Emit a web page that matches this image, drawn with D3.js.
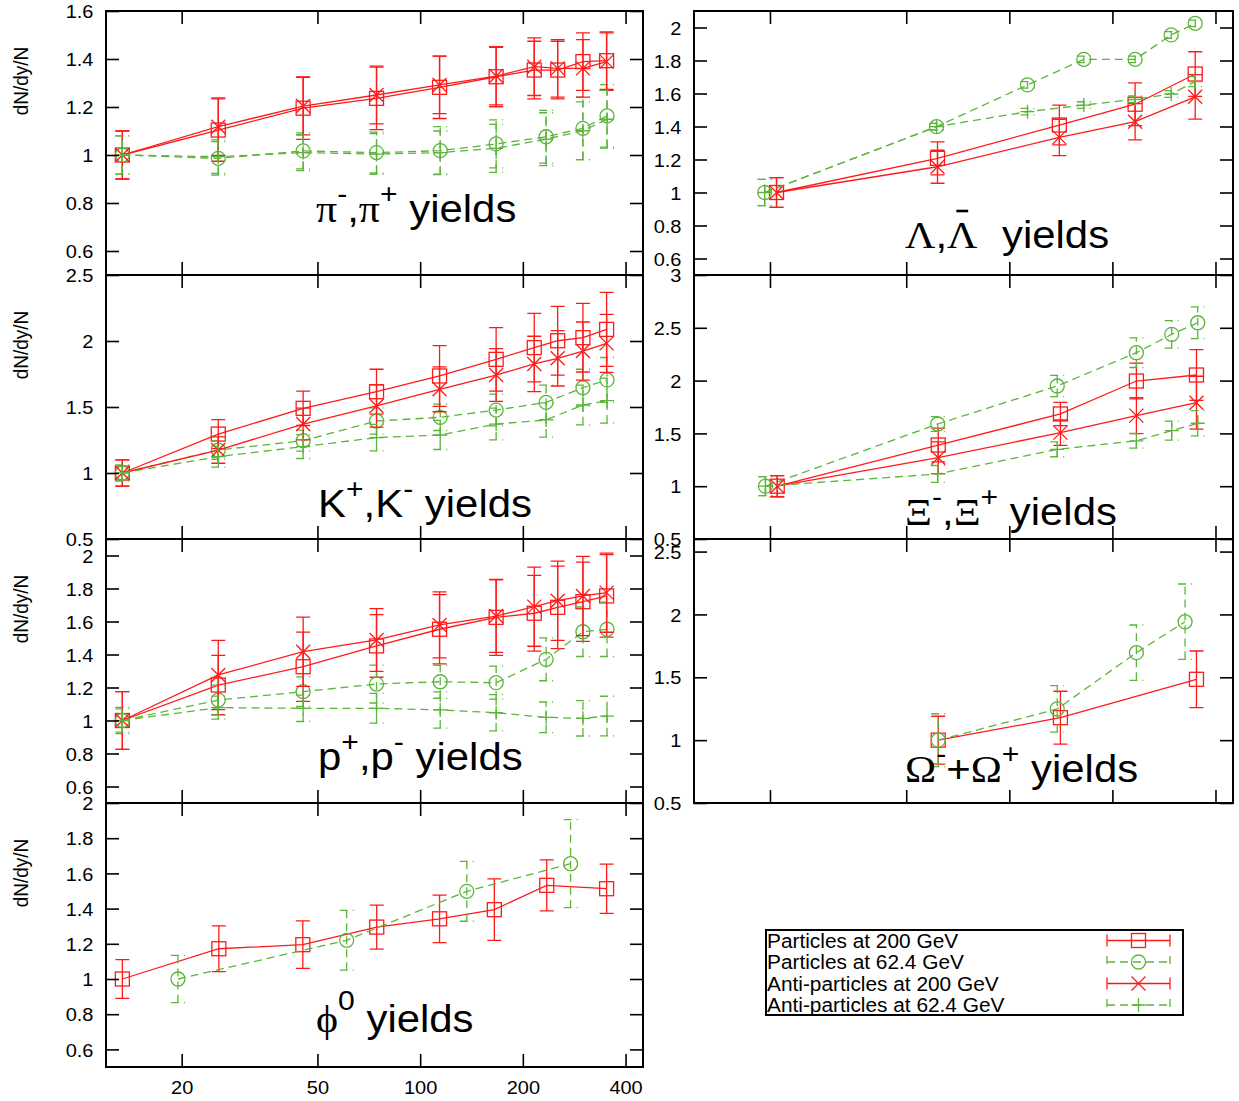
<!DOCTYPE html>
<html>
<head>
<meta charset="utf-8">
<script src="https://cdn.jsdelivr.net/npm/d3@7"></script>
<style>
  body { margin: 0; background: #fff; }
  svg { display: block; }
  text { font-family: "Liberation Sans", Arial, Helvetica, sans-serif; fill: #000; }
</style>
</head>
<body>
<script>
// ---------- shared axis settings ----------
const npartDomain = [12, 450];
const npartTicks = [20, 50, 100, 200, 400];

const yTicksPi = [0.6, 0.8, 1, 1.2, 1.4, 1.6];
const yTicksK = [0.5, 1, 1.5, 2, 2.5];
const yTicksP = [0.6, 0.8, 1, 1.2, 1.4, 1.6, 1.8, 2];
const yTicksPhi = [0.6, 0.8, 1, 1.2, 1.4, 1.6, 1.8, 2];
const yTicksLambda = [0.6, 0.8, 1, 1.2, 1.4, 1.6, 1.8, 2];
const yTicksXi = [0.5, 1, 1.5, 2, 2.5, 3];
const yTicksOmega = [0.5, 1, 1.5, 2, 2.5];

// ---------- Npart of each centrality class ----------
const npart200 = [13.4, 25.6, 45.4, 74.5, 114, 167, 216, 253, 300, 352];
const npart62 = [13.4, 25.6, 45.4, 74.5, 114.5, 167, 234, 300, 353];

// ---------- pions ----------
const piPart200 = [1.0, 1.104, 1.195, 1.236, 1.282, 1.326, 1.354, 1.354, 1.389, 1.393];
const piPart200Err = [0.1, 0.13, 0.13, 0.13, 0.13, 0.125, 0.12, 0.12, 0.12, 0.12];
const piPart62 = [1.0, 0.986, 1.017, 1.01, 1.018, 1.046, 1.076, 1.111, 1.163];
const piPart62Err = [0.08, 0.07, 0.075, 0.085, 0.1, 0.1, 0.11, 0.13, 0.13];
const piAnti200 = [1.0, 1.118, 1.204, 1.25, 1.292, 1.329, 1.368, 1.361, 1.361, 1.389];
const piAnti200Err = [0.1, 0.12, 0.12, 0.12, 0.12, 0.12, 0.12, 0.12, 0.12, 0.12];
const piAnti62 = [1.0, 0.993, 1.01, 1.004, 1.01, 1.028, 1.066, 1.101, 1.149];
const piAnti62Err = [0.08, 0.07, 0.075, 0.085, 0.09, 0.1, 0.11, 0.12, 0.12];

// ---------- kaons ----------
const kPart200 = [1.0, 1.295, 1.49, 1.616, 1.735, 1.861, 1.95, 2.002, 2.025, 2.088];
const kPart200Err = [0.1, 0.11, 0.13, 0.17, 0.23, 0.24, 0.26, 0.26, 0.26, 0.28];
const kPart62 = [1.0, 1.174, 1.245, 1.394, 1.422, 1.477, 1.535, 1.646, 1.705];
const kPart62Err = [0.06, 0.07, 0.08, 0.1, 0.1, 0.12, 0.13, 0.14, 0.17];
const kAnti200 = [1.0, 1.174, 1.371, 1.508, 1.634, 1.742, 1.826, 1.869, 1.924, 1.982];
const kAnti200Err = [0.1, 0.1, 0.12, 0.16, 0.17, 0.2, 0.21, 0.21, 0.22, 0.22];
const kAnti62 = [1.0, 1.124, 1.2, 1.268, 1.288, 1.371, 1.402, 1.515, 1.548];
const kAnti62Err = [0.06, 0.08, 0.09, 0.1, 0.11, 0.12, 0.13, 0.15, 0.17];

// ---------- protons ----------
const pPart200 = [1.0, 1.215, 1.326, 1.452, 1.553, 1.625, 1.65, 1.686, 1.72, 1.755];
const pPart200Err = [0.175, 0.18, 0.21, 0.19, 0.21, 0.23, 0.23, 0.25, 0.24, 0.25];
const pPart62 = [1.0, 1.124, 1.175, 1.221, 1.235, 1.229, 1.371, 1.538, 1.553];
const pPart62Err = [0.08, 0.09, 0.09, 0.115, 0.1, 0.1, 0.13, 0.15, 0.165];
const pAnti200 = [1.0, 1.276, 1.417, 1.488, 1.579, 1.633, 1.69, 1.726, 1.755, 1.775];
const pAnti200Err = [0.175, 0.21, 0.21, 0.19, 0.2, 0.22, 0.24, 0.24, 0.24, 0.24];
const pAnti62 = [1.0, 1.078, 1.074, 1.074, 1.064, 1.047, 1.019, 1.013, 1.027];
const pAnti62Err = [0.07, 0.07, 0.08, 0.09, 0.11, 0.11, 0.093, 0.107, 0.12];

// ---------- phi ----------
const phiNpart200 = [13.4, 25.7, 45.3, 74.6, 114, 165, 235, 352];
const phiPart200 = [1.0, 1.172, 1.195, 1.295, 1.342, 1.394, 1.532, 1.513];
const phiPart200Err = [0.11, 0.13, 0.135, 0.125, 0.135, 0.175, 0.145, 0.14];
const phiNpart62 = [19.5, 60.9, 137, 276];
const phiPart62 = [1.0, 1.22, 1.498, 1.655];
const phiPart62Err = [0.134, 0.17, 0.17, 0.25];

// ---------- lambda ----------
const lamNpart200 = [20.9, 61.7, 140, 233, 349];
const lamPart200 = [1.0, 1.207, 1.409, 1.535, 1.718];
const lamPart200Err = [0.09, 0.1, 0.12, 0.13, 0.135];
const lamAnti200 = [1.0, 1.156, 1.334, 1.429, 1.58];
const lamAnti200Err = [0.09, 0.1, 0.11, 0.11, 0.135];
const lamNpart62 = [19.3, 61.3, 113, 165, 233, 297, 349];
const lamPart62 = [1.0, 1.399, 1.652, 1.807, 1.807, 1.955, 2.025];
const lamPart62Err = [0.08, 0.02, 0.02, 0.02, 0.02, 0.02, 0.02];
const lamAnti62 = [1.0, 1.399, 1.49, 1.53, 1.565, 1.597, 1.672];
const lamAnti62Err = [0.08, 0.02, 0.02, 0.02, 0.02, 0.02, 0.03];

// ---------- xi ----------
const xiNpart200 = [21, 62, 141, 235, 352];
const xiPart200 = [1.0, 1.39, 1.684, 1.996, 2.053];
const xiPart200Err = [0.1, 0.16, 0.11, 0.17, 0.24];
const xiAnti200 = [1.0, 1.27, 1.507, 1.668, 1.791];
const xiAnti200Err = [0.1, 0.15, 0.12, 0.17, 0.25];
const xiNpart62 = [19.4, 61.8, 138, 235, 298, 355];
const xiPart62 = [1.0, 1.589, 1.949, 2.264, 2.438, 2.548];
const xiPart62Err = [0.09, 0.07, 0.1, 0.14, 0.13, 0.15];
const xiAnti62 = [1.0, 1.116, 1.349, 1.43, 1.526, 1.596];
const xiAnti62Err = [0.09, 0.08, 0.07, 0.07, 0.09, 0.12];

// ---------- omega ----------
const omNpart200 = [62, 141, 352];
const omPart200 = [1.0, 1.179, 1.484];
const omPart200Err = [0.19, 0.21, 0.225];
const omNpart62 = [62, 138, 235, 326];
const omPart62 = [1.0, 1.248, 1.696, 1.942];
const omPart62Err = [0.21, 0.185, 0.22, 0.3];

const legendLabels = ["Particles at 200 GeV", "Particles at 62.4 GeV",
                      "Anti-particles at 200 GeV", "Anti-particles at 62.4 GeV"];

// ---------- drawing ----------
const WIDTH = 1239, HEIGHT = 1101;
const RED = "#ff1a1a", GREEN = "#5cb53a";
const STRETCH = 1.075;            // glyphs are drawn slightly wide
const SERIF = "'Liberation Serif', 'Times New Roman', serif";
const TICK = 13, CAP = 7, MARK = 7;

const styles = {
  part200: { color: RED, dash: null, marker: "square" },
  part62:  { color: GREEN, dash: "8,5", marker: "circle" },
  anti200: { color: RED, dash: null, marker: "cross" },
  anti62:  { color: GREEN, dash: "8,5", marker: "plus" }
};

const cols = { left: [106, 643], right: [694, 1233] };
const rows = [11, 275, 539, 803, 1067];

const svg = d3.select("body").append("svg")
  .attr("width", WIDTH).attr("height", HEIGHT);

function drawMarker(g, type, cx, cy, color) {
  const m = g.append("g").attr("fill", "none").attr("stroke", color).attr("stroke-width", 1.3);
  if (type === "square") {
    m.append("rect").attr("x", cx - MARK).attr("y", cy - MARK).attr("width", 2 * MARK).attr("height", 2 * MARK);
  } else if (type === "circle") {
    m.append("circle").attr("cx", cx).attr("cy", cy).attr("r", MARK);
  } else if (type === "cross") {
    m.append("path").attr("d", `M${cx - MARK},${cy - MARK}L${cx + MARK},${cy + MARK}M${cx - MARK},${cy + MARK}L${cx + MARK},${cy - MARK}`);
  } else if (type === "plus") {
    m.append("path").attr("d", `M${cx - MARK},${cy}L${cx + MARK},${cy}M${cx},${cy - MARK}L${cx},${cy + MARK}`);
  }
}

function drawTitle(spec) {
  const tg = svg.append("g")
    .attr("transform", `translate(${spec.x},${spec.y}) scale(${STRETCH},1)`);
  const t = tg.append("text").attr("font-size", 39);
  let shift = 0, index = 0;
  const bars = [];
  spec.parts.forEach(part => {
    const target = part.sup ? -(part.raise || 19) : 0;
    const ts = t.append("tspan").text(part.t).attr("dy", target - shift);
    shift = target;
    if (part.serif) ts.attr("font-family", SERIF);
    if (part.sup) ts.attr("font-size", 28);
    if (part.dx) ts.attr("dx", part.dx);
    if (part.bar) bars.push(index);
    index += part.t.length;
  });
  // overbar for anti-particle symbols
  bars.forEach(i => {
    const box = t.node().getExtentOfChar(i);
    const cx = box.x + box.width / 2;
    tg.append("line")
      .attr("x1", cx - 5.5).attr("x2", cx + 5.5).attr("y1", -37).attr("y2", -37)
      .attr("stroke", "#000").attr("stroke-width", 2.6);
  });
}

function drawPanel(p) {
  const [x0, x1] = cols[p.col];
  const y0 = rows[p.row], y1 = rows[p.row + 1];
  const x = d3.scaleLog().domain(npartDomain).range([x0, x1]);
  const y = d3.scaleLinear().domain(p.yDomain).range([y1, y0]);
  const g = svg.append("g");

  p.series.forEach(s => {
    const st = styles[s.kind];
    const pts = s.n.map((n, i) => ({ n, v: s.v[i], e: s.e[i] }));
    const sg = g.append("g");
    sg.append("path").datum(pts)
      .attr("d", d3.line().x(d => x(d.n)).y(d => y(d.v)))
      .attr("fill", "none").attr("stroke", st.color).attr("stroke-width", 1.3)
      .attr("stroke-dasharray", st.dash);
    pts.forEach(d => {
      const cx = x(d.n), ylo = y(d.v - d.e), yhi = y(d.v + d.e);
      sg.append("path")
        .attr("d", `M${cx},${ylo}L${cx},${yhi}M${cx - CAP},${ylo}L${cx + CAP},${ylo}M${cx - CAP},${yhi}L${cx + CAP},${yhi}`)
        .attr("fill", "none").attr("stroke", st.color).attr("stroke-width", 1.3)
        .attr("stroke-dasharray", st.dash);
      drawMarker(sg, st.marker, cx, y(d.v), st.color);
    });
  });

  const styleAxis = a => {
    a.select(".domain").remove();
    a.selectAll(".tick line").attr("stroke", "#000").attr("stroke-width", 1.6);
    a.attr("font-family", null).attr("font-size", 18.6);
  };

  g.append("g").attr("transform", `translate(0,${y0})`)
    .call(d3.axisTop(x).tickValues(npartTicks).tickSize(-TICK).tickFormat(""))
    .call(styleAxis);
  const bottom = g.append("g").attr("transform", `translate(0,${y1})`)
    .call(d3.axisBottom(x).tickValues(npartTicks).tickSize(-TICK).tickPadding(14)
      .tickFormat(p.xLabels ? d3.format("d") : ""))
    .call(styleAxis);
  bottom.selectAll("text").attr("transform", `scale(${STRETCH},1)`);

  const left = g.append("g").attr("transform", `translate(${x0},0)`)
    .call(d3.axisLeft(y).tickValues(p.yTicks).tickSize(-TICK).tickPadding(12.6 / STRETCH)
      .tickFormat(d3.format("~g")))
    .call(styleAxis);
  left.selectAll("text").attr("transform", `scale(${STRETCH},1)`).attr("dy", "0.36em");
  g.append("g").attr("transform", `translate(${x1},0)`)
    .call(d3.axisRight(y).tickValues(p.yTicks).tickSize(-TICK).tickFormat(""))
    .call(styleAxis);

  g.append("rect").attr("x", x0).attr("y", y0).attr("width", x1 - x0).attr("height", y1 - y0)
    .attr("fill", "none").attr("stroke", "#000").attr("stroke-width", 2);

  if (p.yLabel) {
    g.append("text")
      .attr("transform", `translate(28,${y0 + 70}) rotate(-90) scale(1,${STRETCH})`)
      .attr("text-anchor", "middle").attr("font-size", 19)
      .text("dN/dy/N");
  }

  drawTitle(p.title);
}

const ser = (kind, n, v, e) => ({ kind, n, v, e });

const panels = [
  { col: "left", row: 0, yDomain: [0.5, 1.6], yTicks: yTicksPi, yLabel: true,
    title: { x: 316, y: 222, parts: [
      { t: "π", serif: true }, { t: "-", sup: true }, { t: "," },
      { t: "π", serif: true }, { t: "+", sup: true }, { t: " yields" }] },
    series: [ser("part200", npart200, piPart200, piPart200Err), ser("part62", npart62, piPart62, piPart62Err),
             ser("anti200", npart200, piAnti200, piAnti200Err), ser("anti62", npart62, piAnti62, piAnti62Err)] },
  { col: "left", row: 1, yDomain: [0.5, 2.5], yTicks: yTicksK, yLabel: true,
    title: { x: 318, y: 517, parts: [
      { t: "K" }, { t: "+", sup: true }, { t: ",K" }, { t: "-", sup: true }, { t: " yields" }] },
    series: [ser("part200", npart200, kPart200, kPart200Err), ser("part62", npart62, kPart62, kPart62Err),
             ser("anti200", npart200, kAnti200, kAnti200Err), ser("anti62", npart62, kAnti62, kAnti62Err)] },
  { col: "left", row: 2, yDomain: [0.5, 2.1], yTicks: yTicksP, yLabel: true,
    title: { x: 318, y: 770, parts: [
      { t: "p" }, { t: "+", sup: true }, { t: ",p" }, { t: "-", sup: true }, { t: " yields" }] },
    series: [ser("part200", npart200, pPart200, pPart200Err), ser("part62", npart62, pPart62, pPart62Err),
             ser("anti200", npart200, pAnti200, pAnti200Err), ser("anti62", npart62, pAnti62, pAnti62Err)] },
  { col: "left", row: 3, yDomain: [0.5, 2.0], yTicks: yTicksPhi, yLabel: true, xLabels: true,
    title: { x: 316, y: 1032, parts: [
      { t: "\u03D5", serif: true }, { t: "0", sup: true, raise: 22 }, { t: " yields" }] },
    series: [ser("part200", phiNpart200, phiPart200, phiPart200Err), ser("part62", phiNpart62, phiPart62, phiPart62Err)] },
  { col: "right", row: 0, yDomain: [0.5, 2.1], yTicks: yTicksLambda,
    title: { x: 905, y: 248, parts: [
      { t: "Λ", serif: true }, { t: "," }, { t: "Λ", serif: true, bar: true }, { t: " yields", dx: 12 }] },
    series: [ser("part200", lamNpart200, lamPart200, lamPart200Err), ser("part62", lamNpart62, lamPart62, lamPart62Err),
             ser("anti200", lamNpart200, lamAnti200, lamAnti200Err), ser("anti62", lamNpart62, lamAnti62, lamAnti62Err)] },
  { col: "right", row: 1, yDomain: [0.5, 3.0], yTicks: yTicksXi,
    title: { x: 905, y: 525, parts: [
      { t: "Ξ", serif: true }, { t: "-", sup: true }, { t: "," },
      { t: "Ξ", serif: true }, { t: "+", sup: true }, { t: " yields" }] },
    series: [ser("part200", xiNpart200, xiPart200, xiPart200Err), ser("part62", xiNpart62, xiPart62, xiPart62Err),
             ser("anti200", xiNpart200, xiAnti200, xiAnti200Err), ser("anti62", xiNpart62, xiAnti62, xiAnti62Err)] },
  { col: "right", row: 2, yDomain: [0.5, 2.6], yTicks: yTicksOmega,
    title: { x: 905, y: 782, parts: [
      { t: "Ω", serif: true }, { t: "-", sup: true }, { t: "+" },
      { t: "Ω", serif: true }, { t: "+", sup: true }, { t: " yields" }] },
    series: [ser("part200", omNpart200, omPart200, omPart200Err), ser("part62", omNpart62, omPart62, omPart62Err)] }
];

panels.forEach(drawPanel);

// ---------- legend ----------
const legend = svg.append("g");
legend.append("rect").attr("x", 766).attr("y", 930).attr("width", 417).attr("height", 85)
  .attr("fill", "#fff").attr("stroke", "#000").attr("stroke-width", 2);
const legendKinds = ["part200", "part62", "anti200", "anti62"];
const legendY = d3.scalePoint().domain(d3.range(4)).range([940.5, 1005]);
legendKinds.forEach((k, i) => {
  const st = styles[k];
  const cy = legendY(i);
  legend.append("text")
    .attr("transform", `translate(767,${cy + 7}) scale(${STRETCH},1)`)
    .attr("font-size", 19.4).text(legendLabels[i]);
  const xa = 1107, xb = 1170, cx = (xa + xb) / 2;
  legend.append("path")
    .attr("d", `M${xa},${cy}L${xb},${cy}M${xa},${cy - 6}L${xa},${cy + 6}M${xb},${cy - 6}L${xb},${cy + 6}`)
    .attr("fill", "none").attr("stroke", st.color).attr("stroke-width", 1.3)
    .attr("stroke-dasharray", st.dash);
  drawMarker(legend, st.marker, cx, cy, st.color);
});
</script>
</body>
</html>
